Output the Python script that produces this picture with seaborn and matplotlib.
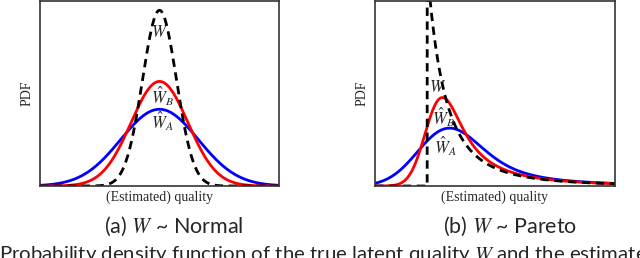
import numpy as np
import matplotlib
matplotlib.use("Agg")
import matplotlib.pyplot as plt
import seaborn as sns

# distribution parameters
# (a) normal case: true W and the two estimates, all centred at 0
normal_names = ["W", "W_B", "W_A"]
normal_loc = [0.0, 0.0, 0.0]
normal_scale = [1.0, 1.68, 2.29]
normal_xlim = [-7.06, 7.06]
normal_ymax = 0.42

# (b) pareto case: true W ~ Pareto(alpha, x_m), estimates = W + gaussian noise
pareto_alpha = 2.0
pareto_xm = 1.0
pareto_noise_mean = [0.0, 0.05, 0.08]   # W, W_B, W_A
pareto_noise_sd = [0.0, 0.26, 0.52]
pareto_xlim = [0.0, 4.6]
pareto_ymax = 1.69

colors = {"W": "black", "W_B": "red", "W_A": "blue"}

sns.set_style("white")
plt.rcParams["font.family"] = ["Liberation Serif", "DejaVu Serif"]
plt.rcParams["mathtext.fontset"] = "stix"

fig = plt.figure(figsize=(6.4, 2.58), dpi=100)
ax1 = fig.add_axes([40 / 640, 1 - 186 / 258, 239 / 640, 185 / 258])
ax2 = fig.add_axes([375 / 640, 1 - 186 / 258, 240 / 640, 185 / 258])


def norm_pdf(x, m, s):
    return np.exp(-0.5 * ((x - m) / s) ** 2) / (s * np.sqrt(2 * np.pi))


# --- (a) Normal
x = np.linspace(normal_xlim[0], normal_xlim[1], 800)
for name, m, s in list(zip(normal_names, normal_loc, normal_scale))[::-1]:
    y = norm_pdf(x, m, s)
    if name == "W":
        sns.lineplot(x=x, y=y, ax=ax1, color="black", lw=2, linestyle=(0, (3, 2)))
    else:
        sns.lineplot(x=x, y=y, ax=ax1, color=colors[name], lw=2)
ax1.set_xlim(normal_xlim)
ax1.set_ylim(0, normal_ymax)

# --- (b) Pareto
du = 0.001
u = np.arange(-3, 25, du)
p = np.where(u >= pareto_xm,
             pareto_alpha * pareto_xm ** pareto_alpha / np.maximum(u, 1e-9) ** (pareto_alpha + 1), 0.0)
sel = (u >= pareto_xlim[0]) & (u <= pareto_xlim[1])
for name, m, s in list(zip(normal_names, pareto_noise_mean, pareto_noise_sd))[::-1]:
    if s == 0:
        left = sel & (u < pareto_xm)
        right = sel & (u >= pareto_xm)
        xx = np.concatenate([u[left], [pareto_xm], u[right]])
        yy = np.concatenate([p[left], [0.0], p[right]])
        ax2.plot(xx, yy, color="black", lw=2, linestyle=(0, (3, 2)))
    else:
        k = np.arange(-6 * s, 6 * s + du / 2, du)
        ker = norm_pdf(k, m, s) * du
        y = np.convolve(p, ker, mode="same")
        sns.lineplot(x=u[sel], y=y[sel], ax=ax2, color=colors[name], lw=2)
ax2.set_xlim(pareto_xlim)
ax2.set_ylim(0, pareto_ymax)

for ax in (ax1, ax2):
    ax.set_xticks([])
    ax.set_yticks([])
    ax.set_xlabel("(Estimated) quality", fontsize=10, labelpad=3)
    ax.set_ylabel("PDF", fontsize=10, labelpad=5)
    for sp in ax.spines.values():
        sp.set_visible(True)
        sp.set_color("#333333")
        sp.set_linewidth(1.2)

lab = dict(fontsize=12, ha="center", va="center")


def put(px, py, s):
    # label placed by pixel position in the figure
    fig.text(px / 640, 1 - py / 258, s, **lab)


put(160, 33, r"$W$")
put(162, 96, r"$\hat{W}_B$")
put(162, 121, r"$\hat{W}_A$")
put(438, 88, r"$W$")
put(443, 117, r"$\hat{W}_B$")
put(445, 146, r"$\hat{W}_A$")

cap = dict(fontsize=15.5, ha="center", va="center", family=["Lato", "DejaVu Sans"])
fig.text(174 / 640, 1 - 226 / 258, r"(a) $W$ ~ Normal", **cap)
fig.text(510 / 640, 1 - 226 / 258, r"(b) $W$ ~ Pareto", **cap)
fig.text(-1 / 640, 1 - 244 / 258,
         r"Probability density function of the true latent quality $W$ and the estimated",
         fontsize=14.7, ha="left", va="top", family=["Lato", "DejaVu Sans"])

fig.savefig("out.png", dpi=100)
